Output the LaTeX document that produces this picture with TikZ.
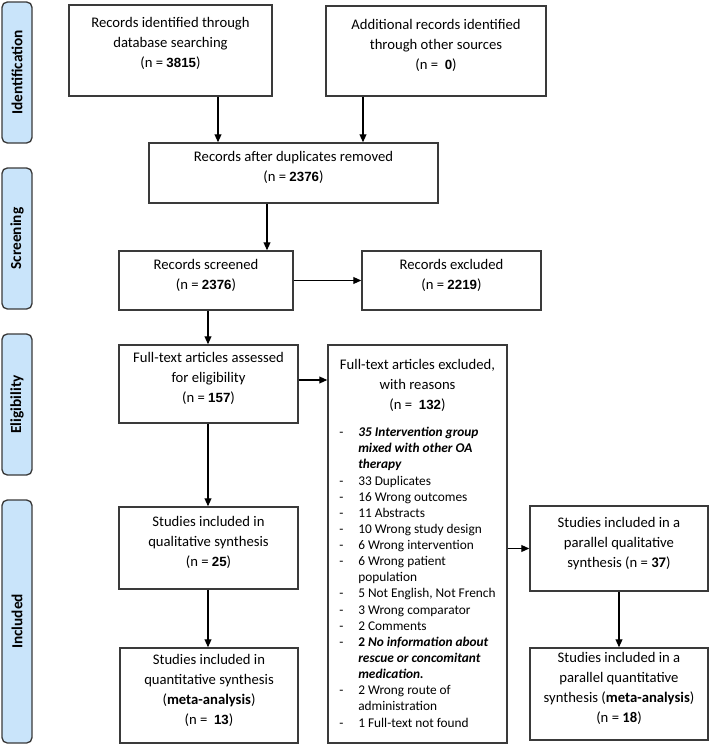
\documentclass[tikz,border=0pt]{standalone}
\usepackage{fontspec}
\setmainfont{Carlito}
\newfontfamily\arialf{Liberation Sans}
\usetikzlibrary{arrows.meta,fit}
\newcommand\nb[1]{{\arialf\bfseries\fontsize{10}{15}\selectfont #1}}
\newcommand\li{\makebox[14.25pt][l]{-}}
\newcommand\ind{\makebox[14.25pt][l]{}}
\definecolor{barblue}{HTML}{C9E4FA}
\definecolor{edgegray}{HTML}{3A3A3A}
\begin{document}
\begin{tikzpicture}[x=0.75pt,y=-0.75pt,
  box/.style={draw=edgegray,line width=1.1pt,inner sep=0pt,align=center,font=\fontsize{11}{15}\selectfont},
  txt/.style={inner sep=0pt,align=center,font=\fontsize{11}{15}\selectfont},
  listtxt/.style={inner sep=0pt,align=left,font=\fontsize{10}{12.1}\selectfont},
  bar/.style={draw=edgegray,line width=1pt,fill=barblue,rounded corners=4pt,inner sep=0pt,font=\fontsize{11.5}{14}\selectfont\bfseries,rotate=90,minimum height=22.5pt},
  arr/.style={draw=black,line width=0.85pt,-{Triangle[length=6pt,width=5.2pt]}}]
\useasboundingbox (0,0) rectangle (709,746);
% phase bars
\node[bar,minimum width=105.75pt] (idb) at (17,72.5) {Identification};
\node[bar,minimum width=105.75pt] (scb) at (17,238.5) {Screening};
\node[bar,minimum width=105.75pt] (elb) at (17,404.5) {Eligibility};
\node[bar,minimum width=182.25pt] (inb) at (17,621.5) {Included};
% boxes
\node[box,fit={(69,5) (272,96)}] (A) {};
\node[txt] (Atxt) at (170.5,43) {Records identified through\\database searching\\(n = \nb{3815})};
\node[box,fit={(326,6) (546,96)}] (B) {};
\node[txt] (Btxt) at (436,45.5) {Additional records identified\\through other sources\\(n = \ \nb{0})};
\node[box,fit={(149,143) (438,203)}] (C) {Records after duplicates removed\\(n = \nb{2376})};
\node[box,fit={(119,251) (293,310)}] (S) {Records screened\\(n = \nb{2376})};
\node[box,fit={(362,251) (541,310)}] (X) {Records excluded\\(n = \nb{2219})};
\node[box,fit={(119,345) (298,423)}] (F) {Full-text articles assessed\\for eligibility\\(n = \nb{157})};
\node[box,fit={(328,345) (507,743)}] (EX) {};
\node[txt] (EXt) at (417.5,385) {Full-text articles excluded,\\with reasons\\(n = \ \nb{132})};
\node[listtxt,anchor=north west] (EXl) at (339,427) {%
\li\textbf{\textit{35 Intervention group}}\\
\ind\textbf{\textit{mixed with other OA}}\\
\ind\textbf{\textit{therapy}}\\
\li 33 Duplicates\\
\li 16 Wrong outcomes\\
\li 11 Abstracts\\
\li 10 Wrong study design\\
\li 6 Wrong intervention\\
\li 6 Wrong patient\\
\ind population\\
\li 5 Not English, Not French\\
\li 3 Wrong comparator\\
\li 2 Comments\\
\li\textbf{2 \textit{No information about}}\\
\ind\textbf{\textit{rescue or concomitant}}\\
\ind\textbf{\textit{medication.}}\\
\li 2 Wrong route of\\
\ind administration\\
\li 1 Full-text not found};
\node[box,fit={(119,507) (298,589)}] (Q) {Studies included in\\qualitative synthesis\\(n = \nb{25})};
\node[box,fit={(120,648) (298,743)}] (QN) {Studies included in\\quantitative synthesis\\(\textbf{meta-analysis})\\(n = \ \nb{13})};
\node[box,fit={(530,506) (708,591)}] (PQ) {Studies included in a\\parallel qualitative\\synthesis (n = \textbf{37})};
\node[box,fit={(530,648) (708,740)}] (PQN) {Studies included in a\\parallel quantitative\\synthesis (\textbf{meta-analysis})\\(n = \textbf{18})};
% helper coordinates
\coordinate (ax) at (218,0);
\coordinate (bx) at (363,0);
\coordinate (cx) at (267,0);
\coordinate (dx) at (208,0);
\coordinate (ey) at (0,380);
% connectors
\draw[arr] (A.south -| ax) -- (C.north -| ax);
\draw[arr] (B.south -| bx) -- (C.north -| bx);
\draw[arr] (C.south -| cx) -- (S.north -| cx);
\draw[arr] (S.east) -- (X.west);
\draw[arr] (S.south -| dx) -- (F.north -| dx);
\draw[arr] (F.east |- ey) -- (EX.west |- ey);
\draw[arr] (F.south -| dx) -- (Q.north -| dx);
\draw[arr] (Q.south -| dx) -- (QN.north -| dx);
\draw[arr] (EX.east |- PQ.west) -- (PQ.west);
\draw[arr] (PQ.south) -- (PQN.north);
\end{tikzpicture}
\end{document}
